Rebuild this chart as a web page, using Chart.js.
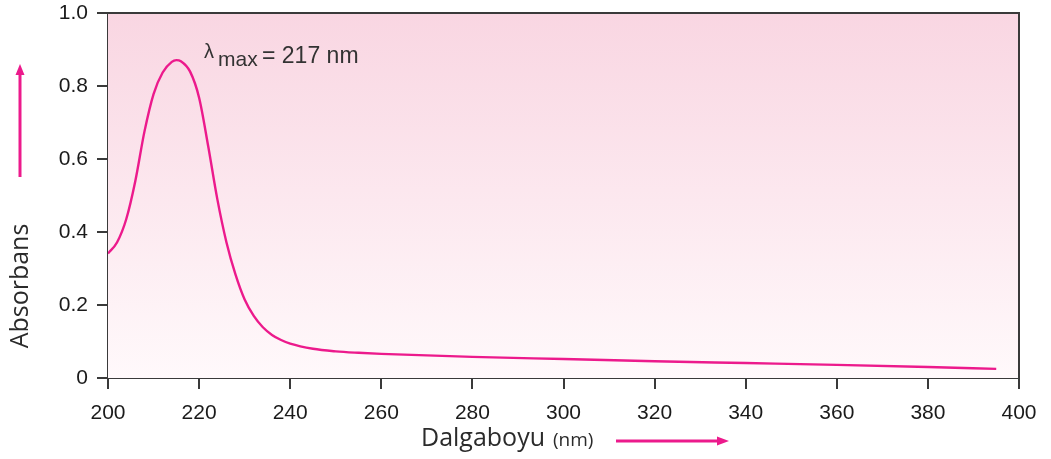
<!DOCTYPE html>
<html>
<head>
<meta charset="utf-8">
<script src="https://cdn.jsdelivr.net/npm/chart.js@4"></script>
<style>
    html, body { margin: 0; padding: 0; background: #fff; }
    #wrap { width: 1051px; height: 459px; position: relative; }
</style>
</head>
<body>
<div id="wrap"><canvas id="spektrum"></canvas></div>
<script>
// dalgaboyu (nm) ve absorbans değerleri
const dalgaboyu = [200, 202, 204, 206, 208, 210, 212, 214, 215, 216, 218, 220, 222, 224, 226, 228, 230, 232, 234, 236, 238, 240, 245, 250, 255, 260, 280, 300, 320, 340, 360, 380, 395];
const absorbans = [0.341, 0.372, 0.435, 0.54, 0.675, 0.778, 0.837, 0.866, 0.871, 0.868, 0.84, 0.768, 0.635, 0.49, 0.372, 0.283, 0.215, 0.17, 0.139, 0.118, 0.104, 0.094, 0.08, 0.073, 0.069, 0.066, 0.058, 0.052, 0.046, 0.041, 0.036, 0.03, 0.025];
const xTicks = [200, 220, 240, 260, 280, 300, 320, 340, 360, 380, 400];
const yTicks = [0, 0.2, 0.4, 0.6, 0.8, 1.0];

const pembe = '#ec1a8c';
const eksen = '#3a3a3a';

const noktalar = dalgaboyu.map((x, i) => ({ x: x, y: absorbans[i] }));

// arka plan, çerçeve, oklar ve etiketler
const suslemeler = {
    id: 'suslemeler',
    beforeDatasetsDraw(chart) {
        const { ctx, chartArea: a } = chart;
        const g = ctx.createLinearGradient(0, a.top, 0, a.bottom);
        g.addColorStop(0, '#f9d6e2');
        g.addColorStop(1, '#fff9fb');
        ctx.save();
        ctx.fillStyle = g;
        ctx.fillRect(a.left, a.top, a.right - a.left, a.bottom - a.top);
        ctx.restore();
    },
    afterDraw(chart) {
        const { ctx, chartArea: a } = chart;
        ctx.save();
        // üst ve sağ çerçeve
        ctx.strokeStyle = eksen;
        ctx.lineWidth = 2;
        ctx.beginPath();
        ctx.moveTo(a.left - 11, a.top);
        ctx.lineTo(a.right, a.top);
        ctx.lineTo(a.right, a.bottom + 11);
        ctx.stroke();

        // oklar
        ctx.strokeStyle = pembe;
        ctx.fillStyle = pembe;
        ctx.lineWidth = 3;
        ctx.beginPath();
        ctx.moveTo(20, 177);
        ctx.lineTo(20, 72);
        ctx.stroke();
        ctx.beginPath();
        ctx.moveTo(20, 64);
        ctx.lineTo(15.5, 75);
        ctx.lineTo(24.5, 75);
        ctx.closePath();
        ctx.fill();

        ctx.beginPath();
        ctx.moveTo(616, 441);
        ctx.lineTo(718, 441);
        ctx.stroke();
        ctx.beginPath();
        ctx.moveTo(729, 441);
        ctx.lineTo(717, 436.5);
        ctx.lineTo(717, 445.5);
        ctx.closePath();
        ctx.fill();

        // eksen başlıkları
        ctx.fillStyle = '#2b2b2b';
        ctx.textBaseline = 'alphabetic';
        ctx.textAlign = 'left';
        ctx.font = '25px "Open Sans"';
        ctx.fillText('Dalgaboyu', 421, 446);
        ctx.font = '19px "Open Sans"';
        ctx.fillText('(nm)', 553, 446);

        ctx.translate(28, 286);
        ctx.rotate(-Math.PI / 2);
        ctx.textAlign = 'center';
        ctx.font = '25px "Open Sans"';
        ctx.fillText('Absorbans', 0, 0);
        ctx.restore();

        // λmax etiketi
        ctx.save();
        ctx.fillStyle = '#333';
        ctx.textAlign = 'left';
        ctx.font = '20px "Liberation Sans"';
        ctx.fillText('λ', 204, 58);
        ctx.font = '21px "Liberation Sans"';
        ctx.fillText('max', 218, 66);
        ctx.font = '23px "Liberation Sans"';
        ctx.fillText('= 217 nm', 262, 63);
        ctx.restore();
    }
};

new Chart(document.getElementById('spektrum'), {
    type: 'line',
    data: {
        datasets: [{
            data: noktalar,
            borderColor: pembe,
            borderWidth: 2.4,
            pointRadius: 0,
            cubicInterpolationMode: 'monotone',
            fill: false
        }]
    },
    options: {
        responsive: true,
        maintainAspectRatio: false,
        animation: false,
        layout: { padding: { left: 0, right: 32, top: 13, bottom: 0 } },
        plugins: { legend: { display: false }, tooltip: { enabled: false } },
        scales: {
            x: {
                type: 'linear',
                min: 200,
                max: 400,
                afterBuildTicks: s => { s.ticks = xTicks.map(v => ({ value: v })); },
                afterFit: s => { s.height = 81; s.paddingRight = 0; s.paddingLeft = 0; },
                grid: { drawOnChartArea: false, drawTicks: true, tickLength: 11, color: eksen, lineWidth: 2 },
                border: { color: eksen, width: 2 },
                ticks: { color: '#1a1a1a', font: { family: '"Liberation Sans"', size: 21 }, padding: 12, maxRotation: 0 }
            },
            y: {
                min: 0,
                max: 1,
                afterBuildTicks: s => { s.ticks = yTicks.map(v => ({ value: v })); },
                afterFit: s => { s.width = 108; s.paddingTop = 0; s.paddingBottom = 0; },
                grid: { drawOnChartArea: false, drawTicks: true, tickLength: 11, color: eksen, lineWidth: 2 },
                border: { color: eksen, width: 2 },
                ticks: {
                    color: '#1a1a1a',
                    font: { family: '"Liberation Sans"', size: 21 },
                    padding: 9,
                    callback: v => v === 0 ? '0' : v.toFixed(1)
                }
            }
        }
    },
    plugins: [suslemeler]
});
</script>
</body>
</html>
